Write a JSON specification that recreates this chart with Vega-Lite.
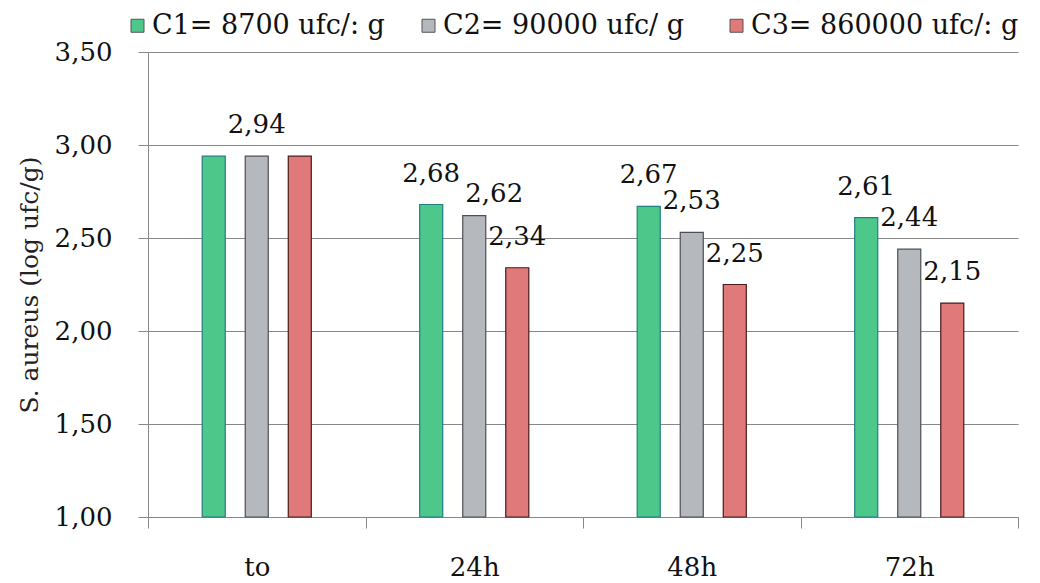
{
  "$schema": "https://vega.github.io/schema/vega-lite/v6.json",
  "autosize": {"type": "none"},
  "width": 870,
  "height": 465,
  "padding": {"left": 148, "top": 52, "right": 22, "bottom": 66},
  "background": "white",
  "config": {
    "font": "DejaVu Serif",
    "view": {"stroke": null}
  },
  "data": {
    "values": [
      {"tempo": "to", "serie": "C1= 8700 ufc/: g", "valor": 2.94, "rotulo": ""},
      {"tempo": "to", "serie": "C2= 90000 ufc/  g", "valor": 2.94, "rotulo": "2,94"},
      {"tempo": "to", "serie": "C3= 860000 ufc/: g", "valor": 2.94, "rotulo": ""},
      {"tempo": "24h", "serie": "C1= 8700 ufc/: g", "valor": 2.68, "rotulo": "2,68"},
      {"tempo": "24h", "serie": "C2= 90000 ufc/  g", "valor": 2.62, "rotulo": "2,62"},
      {"tempo": "24h", "serie": "C3= 860000 ufc/: g", "valor": 2.34, "rotulo": "2,34"},
      {"tempo": "48h", "serie": "C1= 8700 ufc/: g", "valor": 2.67, "rotulo": "2,67"},
      {"tempo": "48h", "serie": "C2= 90000 ufc/  g", "valor": 2.53, "rotulo": "2,53"},
      {"tempo": "48h", "serie": "C3= 860000 ufc/: g", "valor": 2.25, "rotulo": "2,25"},
      {"tempo": "72h", "serie": "C1= 8700 ufc/: g", "valor": 2.61, "rotulo": "2,61"},
      {"tempo": "72h", "serie": "C2= 90000 ufc/  g", "valor": 2.44, "rotulo": "2,44"},
      {"tempo": "72h", "serie": "C3= 860000 ufc/: g", "valor": 2.15, "rotulo": "2,15"}
    ]
  },
  "encoding": {
    "x": {
      "field": "tempo",
      "type": "nominal",
      "sort": ["to", "24h", "48h", "72h"],
      "scale": {"paddingInner": 0, "paddingOuter": 0},
      "axis": {
        "title": null,
        "labelAngle": 0,
        "labelFontSize": 26,
        "labelColor": "#111111",
        "labelPadding": 26,
        "tickBand": "extent",
        "tickSize": 11,
        "tickColor": "#888888",
        "domainColor": "#888888",
        "grid": false
      }
    },
    "xOffset": {
      "field": "serie",
      "type": "nominal",
      "sort": ["C1= 8700 ufc/: g", "C2= 90000 ufc/  g", "C3= 860000 ufc/: g"],
      "scale": {"range": [54.2, 163.3], "paddingInner": 0.465, "paddingOuter": 0}
    },
    "y": {
      "field": "valor",
      "type": "quantitative",
      "scale": {"domain": [1, 3.5], "zero": false, "nice": false},
      "axis": {
        "title": "S. aureus (log ufc/g)",
        "titleFontSize": 25,
        "titleFontWeight": "normal",
        "titleColor": "#222222",
        "titlePadding": 12,
        "values": [1, 1.5, 2, 2.5, 3, 3.5],
        "labelExpr": "replace(format(datum.value, '.2f'), '.', ',')",
        "labelFontSize": 26,
        "labelColor": "#111111",
        "labelPadding": 26,
        "tickSize": 10,
        "tickColor": "#888888",
        "domainColor": "#888888",
        "gridColor": "#888888",
        "gridWidth": 1
      }
    }
  },
  "layer": [
    {
      "mark": {"type": "bar", "strokeWidth": 1.2},
      "encoding": {
        "y2": {"datum": 1},
        "color": {
          "field": "serie",
          "type": "nominal",
          "sort": ["C1= 8700 ufc/: g", "C2= 90000 ufc/  g", "C3= 860000 ufc/: g"],
          "scale": {"range": ["#4dc78a", "#b5b8bd", "#e07a7a"]},
          "legend": {
            "title": null,
            "orient": "none",
            "legendX": -24,
            "legendY": -40,
            "direction": "horizontal",
            "symbolType": "square",
            "symbolSize": 169,
            "symbolStrokeWidth": 1,
            "symbolStrokeColor": "#555555",
            "symbolOpacity": 1,
            "labelFontSize": 27,
            "labelColor": "#111111",
            "labelOffset": 1,
            "labelLimit": 400,
            "columnPadding": 30
          }
        },
        "stroke": {
          "field": "serie",
          "type": "nominal",
          "sort": ["C1= 8700 ufc/: g", "C2= 90000 ufc/  g", "C3= 860000 ufc/: g"],
          "scale": {"range": ["#1f7f84", "#4d4f55", "#4a1a1a"]},
          "legend": null
        }
      }
    },
    {
      "transform": [{"filter": "!(datum.tempo === '24h' && datum.valor === 2.62)"}],
      "mark": {
        "type": "text",
        "baseline": "alphabetic",
        "align": "center",
        "dy": -23,
        "fontSize": 26,
        "color": "#111111"
      },
      "encoding": {
        "text": {"field": "rotulo"}
      }
    },
    {
      "transform": [{"filter": "datum.tempo === '24h' && datum.valor === 2.62"}],
      "mark": {
        "type": "text",
        "baseline": "alphabetic",
        "align": "center",
        "dx": 20,
        "dy": -14,
        "fontSize": 26,
        "color": "#111111"
      },
      "encoding": {
        "text": {"field": "rotulo"}
      }
    }
  ]
}
